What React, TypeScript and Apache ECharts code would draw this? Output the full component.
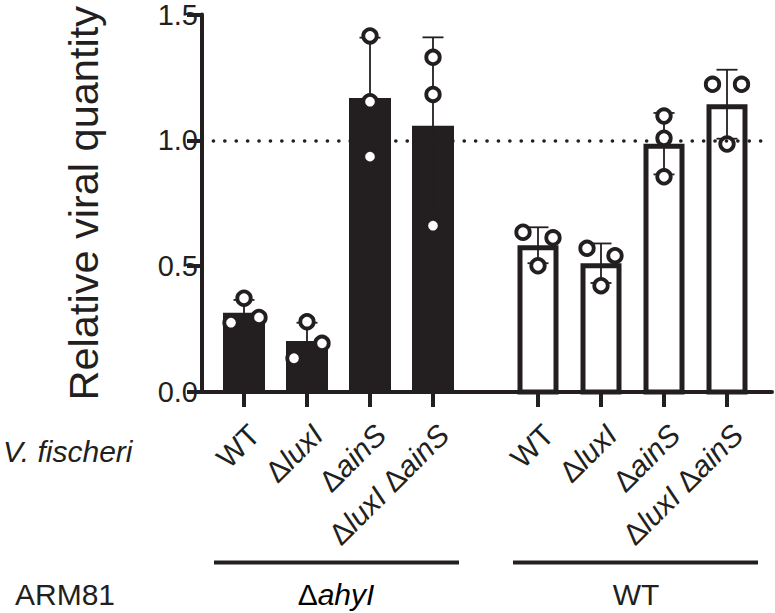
import React, { useEffect, useRef } from 'react';
import * as echarts from 'echarts';

// ---- data ----
const categories = ['WT', 'ΔluxI', 'ΔainS', 'ΔluxI ΔainS'];
// ARM81 ΔahyI background (black bars): replicate values per strain
const ahyIPoints = [
  [0.372, 0.275, 0.296],
  [0.279, 0.134, 0.193],
  [1.413, 1.152, 0.934],
  [1.328, 1.181, 0.66],
];
// ARM81 WT background (open bars)
const wtPoints = [
  [0.634, 0.612, 0.501],
  [0.57, 0.541, 0.422],
  [1.095, 1.007, 0.854],
  [1.221, 1.221, 0.984],
];
// horizontal scatter of the replicate dots (px)
const ahyIJitter = [
  [0, -13, 15],
  [0, -13, 15],
  [0, 0, 0],
  [0, 0, 0],
];
const wtJitter = [
  [-15, 15, 0],
  [-14, 14, 0],
  [0, 0, 0],
  [-14.5, 14.5, 0],
];
const yMin = 0;
const yMax = 1.5;
const yInterval = 0.5;
const referenceLevel = 1.0;
const groupLabels = ['ΔahyI', 'WT'];
const rowLabels = ['V. fischeri', 'ARM81'];
const yAxisTitle = 'Relative viral quantity';

// ---- helpers ----
const mean = (a: number[]) => a.reduce((s, v) => s + v, 0) / a.length;
const sd = (a: number[]) => {
  const m = mean(a);
  return Math.sqrt(a.reduce((s, v) => s + (v - m) * (v - m), 0) / (a.length - 1));
};

const BLACK = '#231f20';
const FONT = '"Liberation Sans", Arial, Helvetica, sans-serif';

const labelFormatter = (v: string) =>
  v
    .split(' ')
    .map((part) => (part.startsWith('Δ') ? `{d|Δ}{i|${part.slice(1)}}` : `{n|${part}}`))
    .join('{n| }');

const richStyles = {
  d: { fontSize: 30, fontFamily: FONT, color: BLACK, fontStyle: 'normal', fontWeight: 'normal' },
  i: { fontSize: 30, fontFamily: FONT, color: BLACK, fontStyle: 'italic', fontWeight: 'normal' },
  n: { fontSize: 30, fontFamily: FONT, color: BLACK, fontStyle: 'normal', fontWeight: 'normal' },
};

function errorBarSeries(points: number[][], gridIdx: number) {
  return {
    type: 'custom',
    xAxisIndex: gridIdx,
    yAxisIndex: gridIdx,
    z: 3,
    silent: true,
    data: points.map((p, i) => [i, mean(p), sd(p)]),
    renderItem: (_params: any, api: any) => {
      const i = api.value(0);
      const m = api.value(1);
      const s = api.value(2);
      const hi = api.coord([i, m + s]);
      const lo = api.coord([i, m - s]);
      const hw = 10.5;
      const st = { stroke: BLACK, lineWidth: 1.8, fill: null };
      return {
        type: 'group',
        children: [
          { type: 'line', shape: { x1: hi[0], y1: hi[1], x2: lo[0], y2: lo[1] }, style: st },
          { type: 'line', shape: { x1: hi[0] - hw, y1: hi[1], x2: hi[0] + hw, y2: hi[1] }, style: st },
          { type: 'line', shape: { x1: lo[0] - hw, y1: lo[1], x2: lo[0] + hw, y2: lo[1] }, style: st },
        ],
      };
    },
  };
}

function dotSeries(points: number[][], jitter: number[][], gridIdx: number) {
  const data: any[] = [];
  points.forEach((p, i) =>
    p.forEach((v, k) => data.push({ value: [i, v], symbolOffset: [jitter[i][k], 0] }))
  );
  return {
    type: 'scatter',
    xAxisIndex: gridIdx,
    yAxisIndex: gridIdx,
    z: 4,
    silent: true,
    symbol: 'circle',
    symbolSize: 13.5,
    itemStyle: { color: '#ffffff', borderColor: BLACK, borderWidth: 3.8, opacity: 1 },
    data,
  };
}

export default function App() {
  const ref = useRef<HTMLDivElement>(null);

  useEffect(() => {
    if (!ref.current) return;
    const chart = echarts.init(ref.current, null, { renderer: 'svg' });

    const TOP = 14;
    const BOTTOM = 613 - 392;
    const catAxis = (gridIndex: number) => ({
      type: 'category',
      gridIndex,
      data: categories,
      boundaryGap: true,
      axisLine: { show: false },
      axisTick: { show: true, alignWithLabel: true, length: 15, lineStyle: { width: 4, color: BLACK } },
      axisLabel: {
        interval: 0,
        rotate: 45,
        margin: 27,
        align: 'right',
        verticalAlign: 'top',
        lineHeight: 30,
        fontWeight: 'normal',
        formatter: labelFormatter,
        rich: richStyles,
      },
      splitLine: { show: false },
    });
    const hiddenY = (gridIndex: number) => ({
      type: 'value',
      gridIndex,
      min: yMin,
      max: yMax,
      interval: yInterval,
      show: false,
      splitLine: { show: false },
    });

    const option: any = {
      animation: false,
      backgroundColor: '#ffffff',
      grid: [
        { left: 212.5, width: 252, top: TOP, bottom: BOTTOM },
        { left: 506.5, width: 252, top: TOP, bottom: BOTTOM },
        { left: 202, right: 3, top: TOP, bottom: BOTTOM },
      ],
      xAxis: [
        catAxis(0),
        catAxis(1),
        {
          type: 'value',
          gridIndex: 2,
          min: 0,
          max: 1,
          axisLine: { show: true, lineStyle: { width: 4, color: BLACK } },
          axisTick: { show: false },
          axisLabel: { show: false },
          splitLine: { show: false },
        },
      ],
      yAxis: [
        hiddenY(0),
        hiddenY(1),
        {
          type: 'value',
          gridIndex: 2,
          min: yMin,
          max: yMax,
          interval: yInterval,
          axisLine: { show: true, lineStyle: { width: 4, color: BLACK } },
          axisTick: { show: true, length: 15, lineStyle: { width: 4, color: BLACK } },
          axisLabel: {
            margin: 4,
            fontSize: 29,
            fontFamily: FONT,
            fontWeight: 'normal',
            color: BLACK,
            formatter: (v: number) => v.toFixed(1),
          },
          splitLine: { show: false },
          name: yAxisTitle,
          nameLocation: 'middle',
          nameGap: 98,
          nameTextStyle: { fontSize: 41.5, fontFamily: FONT, fontWeight: 'normal', color: BLACK },
        },
      ],
      series: [
        // black bars (ΔahyI)
        {
          type: 'bar',
          xAxisIndex: 0,
          yAxisIndex: 0,
          z: 2,
          silent: true,
          barWidth: 42,
          itemStyle: { color: BLACK },
          data: ahyIPoints.map((p) => mean(p)),
        },
        errorBarSeries(ahyIPoints, 0),
        dotSeries(ahyIPoints, ahyIJitter, 0),
        // open bars (WT) drawn with an inner border
        {
          type: 'custom',
          xAxisIndex: 1,
          yAxisIndex: 1,
          z: 2,
          silent: true,
          data: wtPoints.map((p, i) => [i, mean(p)]),
          renderItem: (_params: any, api: any) => {
            const i = api.value(0);
            const v = api.value(1);
            const top = api.coord([i, v]);
            const base = api.coord([i, 0]);
            const w = 41;
            const lw = 5;
            return {
              type: 'rect',
              shape: {
                x: top[0] - w / 2 + lw / 2,
                y: top[1] + lw / 2,
                width: w - lw,
                height: base[1] - top[1] - lw / 2,
              },
              style: { fill: '#ffffff', stroke: BLACK, lineWidth: lw },
            };
          },
        },
        errorBarSeries(wtPoints, 1),
        dotSeries(wtPoints, wtJitter, 1),
        // reference line at 1.0
        {
          type: 'line',
          xAxisIndex: 2,
          yAxisIndex: 2,
          data: [],
          silent: true,
          markLine: {
            silent: true,
            symbol: 'none',
            label: { show: false },
            lineStyle: { type: [0.1, 11.3], cap: 'round', width: 3.6, color: BLACK },
            data: [[{ xAxis: 0.02, yAxis: referenceLevel }, { xAxis: 0.985, yAxis: referenceLevel }]],
          },
        },
      ],
      graphic: [
        {
          type: 'text',
          left: 3,
          top: 436,
          style: {
            text: rowLabels[0],
            font: `italic normal 30px ${FONT}`,
            fill: BLACK,
          },
        },
        {
          type: 'text',
          left: 15,
          top: 579,
          style: { text: rowLabels[1], font: `normal 30px ${FONT}`, fill: BLACK },
        },
        {
          type: 'line',
          shape: { x1: 214, y1: 562.5, x2: 459, y2: 562.5 },
          style: { stroke: BLACK, lineWidth: 4 },
        },
        {
          type: 'line',
          shape: { x1: 513, y1: 562.5, x2: 758, y2: 562.5 },
          style: { stroke: BLACK, lineWidth: 4 },
        },
        {
          type: 'text',
          x: 336,
          y: 594,
          style: {
            text: `{d|Δ}{i|${groupLabels[0].slice(1)}}`,
            align: 'center',
            verticalAlign: 'middle',
            rich: richStyles,
          },
        },
        {
          type: 'text',
          x: 636,
          y: 594,
          style: {
            text: groupLabels[1],
            font: `normal 30px ${FONT}`,
            fill: BLACK,
            align: 'center',
            verticalAlign: 'middle',
          },
        },
      ],
    };

    chart.setOption(option);
    return () => chart.dispose();
  }, []);

  return (
    <div
      ref={ref}
      style={{ position: 'fixed', left: 0, top: 0, width: 775, height: 613, background: '#fff' }}
    />
  );
}
